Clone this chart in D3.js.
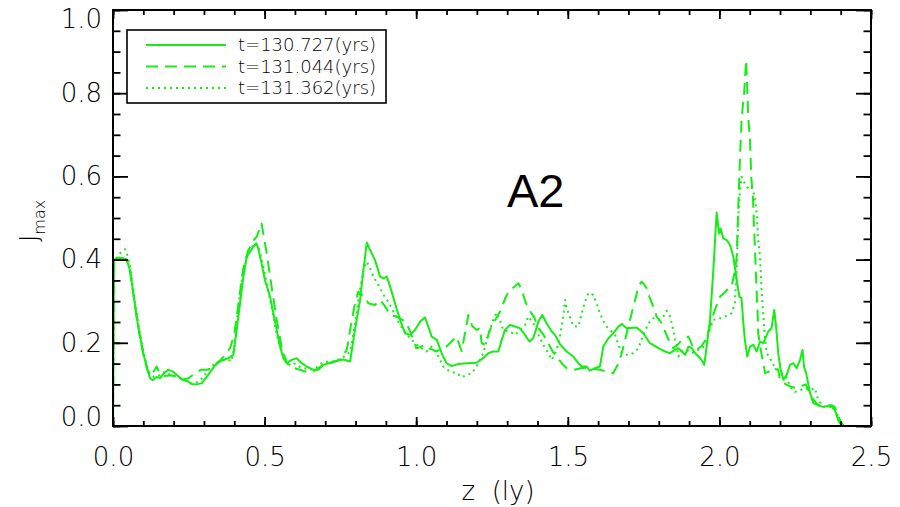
<!DOCTYPE html>
<html>
<head>
<meta charset="utf-8">
<script src="https://cdn.jsdelivr.net/npm/d3@7"></script>
<style>
  body { margin: 0; background: #fff; }
  svg { display: block; }
  .thin { font-family: "DejaVu Sans", sans-serif; font-weight: 200; fill: #000; }
</style>
</head>
<body>
<svg id="chart" width="900" height="507"></svg>
<script>
// ---- data: J_max profiles along z (ly) at three times ----
const seriesLabels = ["t=130.727(yrs)", "t=131.044(yrs)", "t=131.362(yrs)"];

const zSolid = [0,0.003,0.015,0.03,0.045,0.056,0.067,0.078,0.089,0.1,0.111,0.122,0.131,0.144,0.155,0.166,0.182,0.199,0.21,0.227,0.243,0.26,0.276,0.293,0.309,0.326,0.342,0.364,0.38,0.397,0.408,0.419,0.43,0.441,0.452,0.463,0.472,0.479,0.49,0.501,0.518,0.529,0.54,0.551,0.562,0.573,0.589,0.606,0.622,0.639,0.661,0.677,0.694,0.716,0.738,0.76,0.782,0.798,0.815,0.826,0.837,0.848,0.864,0.881,0.892,0.903,0.914,0.93,0.947,0.963,0.98,0.996,1.013,1.029,1.04,1.051,1.068,1.084,1.1,1.117,1.139,1.166,1.199,1.221,1.238,1.254,1.271,1.282,1.293,1.309,1.326,1.342,1.359,1.373,1.386,1.403,1.416,1.43,1.447,1.458,1.474,1.496,1.518,1.535,1.546,1.562,1.573,1.59,1.606,1.617,1.634,1.65,1.667,1.678,1.694,1.727,1.749,1.771,1.799,1.821,1.837,1.854,1.865,1.876,1.887,1.898,1.909,1.92,1.931,1.941,1.95,1.958,1.969,1.98,1.991,1.999,2.004,2.013,2.024,2.035,2.046,2.057,2.066,2.073,2.079,2.084,2.092,2.101,2.112,2.123,2.134,2.145,2.161,2.172,2.181,2.187,2.194,2.202,2.211,2.222,2.233,2.244,2.255,2.266,2.274,2.279,2.286,2.299,2.31,2.326,2.343,2.365,2.381,2.392,2.403,2.5];
const jSolid = [0,0.40,0.404,0.404,0.40,0.375,0.319,0.263,0.215,0.175,0.143,0.115,0.11,0.118,0.115,0.125,0.135,0.13,0.123,0.112,0.109,0.101,0.1,0.103,0.118,0.135,0.151,0.159,0.163,0.171,0.231,0.295,0.359,0.407,0.419,0.431,0.439,0.427,0.391,0.351,0.311,0.271,0.231,0.191,0.163,0.151,0.159,0.163,0.151,0.143,0.135,0.135,0.147,0.152,0.157,0.16,0.155,0.231,0.303,0.375,0.441,0.423,0.399,0.359,0.355,0.359,0.335,0.295,0.255,0.223,0.219,0.231,0.251,0.261,0.239,0.215,0.207,0.175,0.151,0.144,0.149,0.151,0.152,0.163,0.175,0.179,0.179,0.207,0.231,0.243,0.239,0.235,0.219,0.203,0.211,0.251,0.267,0.247,0.227,0.219,0.197,0.179,0.167,0.151,0.143,0.143,0.133,0.139,0.143,0.191,0.211,0.223,0.239,0.245,0.235,0.237,0.223,0.199,0.187,0.179,0.175,0.183,0.187,0.179,0.171,0.191,0.187,0.175,0.167,0.159,0.147,0.191,0.255,0.375,0.513,0.463,0.475,0.451,0.447,0.435,0.407,0.351,0.311,0.307,0.247,0.207,0.167,0.191,0.195,0.179,0.203,0.199,0.227,0.235,0.279,0.239,0.175,0.135,0.111,0.123,0.147,0.151,0.139,0.159,0.183,0.143,0.127,0.079,0.055,0.05,0.046,0.05,0.038,0.014,0,0];

const zDashed = [0,0.003,0.02,0.045,0.056,0.067,0.078,0.089,0.1,0.111,0.122,0.133,0.144,0.155,0.17,0.19,0.21,0.23,0.25,0.27,0.29,0.31,0.33,0.35,0.364,0.386,0.4,0.415,0.43,0.445,0.462,0.474,0.49,0.507,0.523,0.54,0.556,0.573,0.595,0.617,0.64,0.661,0.694,0.72,0.749,0.771,0.782,0.798,0.809,0.82,0.83,0.842,0.864,0.881,0.895,0.914,0.935,0.955,0.968,0.98,0.996,1.0,1.015,1.029,1.04,1.055,1.068,1.084,1.1,1.117,1.133,1.15,1.16,1.172,1.185,1.2,1.21,1.216,1.227,1.243,1.254,1.265,1.28,1.295,1.309,1.318,1.337,1.348,1.36,1.373,1.39,1.40,1.42,1.435,1.45,1.463,1.48,1.496,1.52,1.55,1.58,1.605,1.628,1.65,1.667,1.678,1.689,1.705,1.722,1.733,1.743,1.749,1.76,1.769,1.782,1.793,1.81,1.821,1.837,1.848,1.862,1.876,1.898,1.91,1.925,1.94,1.958,1.974,1.985,2.002,2.018,2.029,2.04,2.052,2.057,2.062,2.068,2.073,2.077,2.081,2.085,2.088,2.092,2.095,2.101,2.105,2.111,2.114,2.117,2.12,2.123,2.126,2.128,2.137,2.145,2.151,2.162,2.172,2.194,2.2,2.22,2.233,2.255,2.266,2.285,2.293,2.31,2.326,2.348,2.37,2.38,2.39,2.4,2.41,2.5];
const jDashed = [0,0.40,0.405,0.40,0.372,0.318,0.262,0.213,0.172,0.14,0.12,0.13,0.143,0.125,0.12,0.122,0.118,0.112,0.115,0.127,0.135,0.135,0.14,0.155,0.166,0.187,0.22,0.30,0.38,0.42,0.445,0.455,0.487,0.415,0.335,0.255,0.191,0.151,0.14,0.135,0.13,0.131,0.147,0.152,0.159,0.183,0.231,0.295,0.323,0.315,0.312,0.295,0.291,0.303,0.29,0.267,0.263,0.255,0.247,0.227,0.199,0.187,0.19,0.195,0.187,0.183,0.179,0.187,0.191,0.203,0.215,0.18,0.22,0.267,0.24,0.231,0.235,0.199,0.195,0.231,0.247,0.26,0.28,0.31,0.327,0.331,0.343,0.327,0.299,0.279,0.26,0.239,0.219,0.2,0.179,0.167,0.151,0.139,0.135,0.14,0.138,0.135,0.131,0.127,0.151,0.175,0.207,0.255,0.303,0.335,0.347,0.343,0.331,0.311,0.287,0.263,0.247,0.227,0.199,0.187,0.195,0.207,0.215,0.195,0.183,0.191,0.211,0.255,0.279,0.311,0.321,0.331,0.335,0.375,0.407,0.52,0.647,0.735,0.768,0.792,0.84,0.88,0.81,0.743,0.688,0.599,0.543,0.479,0.431,0.375,0.32,0.271,0.223,0.18,0.151,0.127,0.13,0.139,0.135,0.11,0.1,0.095,0.091,0.095,0.1,0.087,0.063,0.05,0.046,0.05,0.046,0.03,0.01,0,0];

const zDotted = [0,0.003,0.012,0.023,0.04,0.051,0.056,0.062,0.067,0.073,0.085,0.1,0.111,0.122,0.135,0.15,0.162,0.175,0.19,0.205,0.22,0.24,0.255,0.27,0.285,0.3,0.32,0.34,0.36,0.38,0.391,0.4,0.41,0.42,0.43,0.445,0.458,0.468,0.478,0.49,0.5,0.51,0.525,0.54,0.555,0.57,0.585,0.6,0.62,0.64,0.655,0.67,0.69,0.71,0.73,0.75,0.77,0.782,0.793,0.804,0.815,0.826,0.837,0.848,0.859,0.875,0.892,0.908,0.925,0.941,0.957,0.98,1.002,1.018,1.034,1.051,1.068,1.089,1.111,1.134,1.15,1.166,1.183,1.199,1.221,1.238,1.254,1.265,1.276,1.287,1.309,1.326,1.342,1.359,1.37,1.386,1.403,1.419,1.436,1.447,1.463,1.474,1.485,1.491,1.496,1.507,1.518,1.535,1.546,1.557,1.568,1.584,1.595,1.606,1.623,1.639,1.656,1.667,1.678,1.694,1.716,1.733,1.749,1.766,1.782,1.799,1.815,1.826,1.837,1.848,1.859,1.865,1.876,1.892,1.909,1.931,1.948,1.964,1.98,1.996,2.007,2.029,2.04,2.051,2.057,2.06,2.063,2.068,2.073,2.084,2.095,2.106,2.117,2.123,2.128,2.134,2.139,2.145,2.151,2.156,2.167,2.178,2.189,2.205,2.22,2.233,2.249,2.266,2.282,2.299,2.315,2.326,2.343,2.365,2.381,2.392,2.4,2.41,2.5];
const jDotted = [0,0.39,0.405,0.415,0.425,0.403,0.383,0.355,0.327,0.295,0.24,0.18,0.145,0.125,0.118,0.12,0.128,0.13,0.122,0.12,0.115,0.108,0.102,0.103,0.108,0.12,0.14,0.152,0.158,0.16,0.155,0.19,0.26,0.33,0.375,0.41,0.43,0.439,0.435,0.4,0.37,0.33,0.28,0.22,0.18,0.16,0.145,0.15,0.14,0.138,0.136,0.14,0.152,0.155,0.155,0.162,0.17,0.179,0.223,0.275,0.331,0.375,0.395,0.379,0.359,0.339,0.315,0.299,0.275,0.251,0.231,0.211,0.195,0.187,0.179,0.191,0.175,0.143,0.131,0.127,0.117,0.123,0.127,0.143,0.175,0.219,0.255,0.272,0.255,0.231,0.227,0.219,0.231,0.243,0.263,0.247,0.219,0.195,0.175,0.159,0.183,0.215,0.263,0.303,0.283,0.263,0.24,0.239,0.271,0.299,0.32,0.315,0.295,0.271,0.243,0.231,0.219,0.195,0.175,0.171,0.175,0.187,0.219,0.247,0.259,0.255,0.263,0.277,0.263,0.231,0.191,0.167,0.18,0.183,0.175,0.183,0.191,0.223,0.255,0.259,0.259,0.267,0.271,0.295,0.375,0.447,0.511,0.567,0.599,0.583,0.571,0.575,0.551,0.511,0.447,0.407,0.327,0.263,0.207,0.175,0.163,0.147,0.139,0.127,0.12,0.095,0.082,0.086,0.091,0.087,0.091,0.062,0.046,0.046,0.042,0.022,0.01,0,0];

// axis ticks
const xMajorTicks = [0, 0.5, 1.0, 1.5, 2.0, 2.5];
const xMinorTicks = d3.range(0, 26).map(i => i / 10);
const yMajorTicks = [0, 0.2, 0.4, 0.6, 0.8, 1.0];
const yMinorTicks = d3.range(0, 21).map(i => i / 20);

// ---- layout ----
const svg = d3.select("#chart");
const plot = { left: 113, right: 871, top: 10, bottom: 426 };
const green = "#14ee14";

const x = d3.scaleLinear().domain([0, 2.5]).range([plot.left, plot.right]);
const y = d3.scaleLinear().domain([0, 1]).range([plot.bottom, plot.top]);
const fmt = d3.format(".1f");

svg.append("defs").append("clipPath").attr("id", "plotClip")
  .append("rect")
  .attr("x", plot.left).attr("y", plot.top - 2)
  .attr("width", plot.right - plot.left).attr("height", plot.bottom - plot.top + 2);

// ---- curves ----
const series = [
  { z: zSolid, j: jSolid, dash: null },
  { z: zDashed, j: jDashed, dash: "12,7" },
  { z: zDotted, j: jDotted, dash: "2,4" }
];
const line = d3.line().x(d => x(d[0])).y(d => y(d[1]));

const curves = svg.append("g").attr("clip-path", "url(#plotClip)");
series.forEach(s => {
  curves.append("path")
    .datum(s.z.map((v, i) => [v, s.j[i]]))
    .attr("d", line)
    .attr("fill", "none")
    .attr("stroke", green)
    .attr("stroke-width", 2)
    .attr("stroke-linejoin", "round")
    .attr("stroke-dasharray", s.dash);
});

// ---- axes (ticks point inward) ----
function styleAxis(g) {
  g.select(".domain").remove();
  g.selectAll(".tick line").attr("stroke", "#000").attr("stroke-width", 1.8);
}

svg.append("g").attr("transform", `translate(0,${plot.bottom})`)
  .call(d3.axisBottom(x).tickValues(xMinorTicks).tickSize(-5).tickFormat(""))
  .call(styleAxis);
svg.append("g").attr("transform", `translate(0,${plot.top})`)
  .call(d3.axisTop(x).tickValues(xMinorTicks).tickSize(-5).tickFormat(""))
  .call(styleAxis);
svg.append("g").attr("transform", `translate(0,${plot.top})`)
  .call(d3.axisTop(x).tickValues(xMajorTicks).tickSize(-9).tickFormat(""))
  .call(styleAxis);

const xAxis = svg.append("g").attr("transform", `translate(0,${plot.bottom})`)
  .call(d3.axisBottom(x).tickValues(xMajorTicks).tickSize(-9).tickPadding(21.5).tickFormat(fmt))
  .call(styleAxis);
xAxis.selectAll(".tick text").attr("class", "thin").style("font-size", "26px");

svg.append("g").attr("transform", `translate(${plot.left},0)`)
  .call(d3.axisLeft(y).tickValues(yMinorTicks).tickSize(-7.5).tickFormat(""))
  .call(styleAxis);
svg.append("g").attr("transform", `translate(${plot.right},0)`)
  .call(d3.axisRight(y).tickValues(yMinorTicks).tickSize(-7.5).tickFormat(""))
  .call(styleAxis);
svg.append("g").attr("transform", `translate(${plot.right},0)`)
  .call(d3.axisRight(y).tickValues(yMajorTicks).tickSize(-15).tickFormat(""))
  .call(styleAxis);

const yAxis = svg.append("g").attr("transform", `translate(${plot.left},0)`)
  .call(d3.axisLeft(y).tickValues(yMajorTicks).tickSize(-15).tickPadding(11).tickFormat(fmt))
  .call(styleAxis);
yAxis.selectAll(".tick text")
  .attr("class", "thin").style("font-size", "26px")
  .attr("y", d => d === 0 ? -9 : d === 1 ? 9 : 0);

// frame
svg.append("rect")
  .attr("x", plot.left).attr("y", plot.top)
  .attr("width", plot.right - plot.left).attr("height", plot.bottom - plot.top)
  .attr("fill", "none").attr("stroke", "#000").attr("stroke-width", 2);

// axis titles
svg.append("text").attr("class", "thin")
  .attr("x", 498).attr("y", 500)
  .attr("text-anchor", "middle")
  .style("font-size", "26px")
  .style("white-space", "pre")
  .text("z\u00a0\u00a0(ly)");

const yTitle = svg.append("text").attr("class", "thin")
  .attr("transform", "translate(37,242) rotate(-90)")
  .style("font-size", "25px");
yTitle.append("tspan").text("J");
yTitle.append("tspan").attr("dy", 8).style("font-size", "16px").text("max");

// panel tag
svg.append("text")
  .attr("x", 507).attr("y", 207)
  .style("font-family", "'Liberation Sans', Arial, sans-serif")
  .style("font-size", "47px")
  .attr("fill", "#000")
  .text("A2");

// ---- legend ----
const legend = svg.append("g");
legend.append("rect")
  .attr("x", 127).attr("y", 30).attr("width", 259).attr("height", 73)
  .attr("fill", "#fff").attr("stroke", "#000").attr("stroke-width", 1.6);
const rowY = d3.scalePoint().domain(seriesLabels).range([45, 88]);
seriesLabels.forEach((lab, i) => {
  legend.append("line")
    .attr("x1", 146).attr("x2", 226)
    .attr("y1", rowY(lab)).attr("y2", rowY(lab))
    .attr("stroke", green).attr("stroke-width", 2)
    .attr("stroke-dasharray", series[i].dash);
  legend.append("text").attr("class", "thin")
    .attr("x", 238).attr("y", rowY(lab) + 6)
    .style("font-size", "18px")
    .text(lab);
});
</script>
</body>
</html>
